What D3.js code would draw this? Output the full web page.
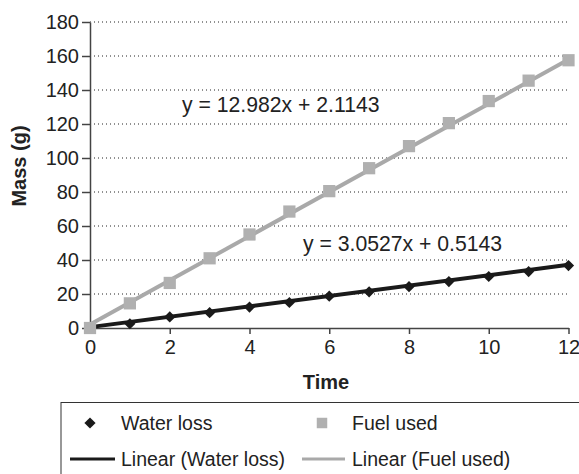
<!DOCTYPE html>
<html><head><meta charset="utf-8">
<script src="https://cdn.jsdelivr.net/npm/d3@7"></script>
<style>body{margin:0;background:#fff}svg{display:block;font-family:"Liberation Sans",Arial,sans-serif}</style>
</head><body>
<script>
const times = [0,1,2,3,4,5,6,7,8,9,10,11,12];
const waterLoss = [0,2.5,6.5,9,12.3,15,18.7,21.3,24.3,27.3,30.3,33.2,36.7];
const fuelUsed = [0,14.5,26.5,41,55,68.5,80.5,94,107,120.5,133.5,145.5,157.5];
const waterFit = {slope:3.0527, intercept:0.5143, label:"y = 3.0527x + 0.5143"};
const fuelFit = {slope:12.982, intercept:2.1143, label:"y = 12.982x + 2.1143"};
const yTicks = [0,20,40,60,80,100,120,140,160,180];
const xTicks = [0,2,4,6,8,10,12];

const W=579,H=474;
const svg=d3.select("body").append("svg").attr("width",W).attr("height",H);
const x=d3.scaleLinear().domain([0,12]).range([90,568.5]);
const y=d3.scaleLinear().domain([0,180]).range([328,22]);
const axisCol="#444";
const txt="#222";

// gridlines
svg.append("g").selectAll("line").data(yTicks.filter(d=>d>0)).join("line")
  .attr("x1",x(0)).attr("x2",x(12)).attr("y1",d=>y(d)).attr("y2",d=>y(d))
  .attr("stroke","#222").attr("stroke-width",1).attr("stroke-dasharray","1,3");

// y axis
const ya=svg.append("g").attr("transform",`translate(${x(0)},0)`)
  .call(d3.axisLeft(y).tickValues(yTicks).tickSize(8).tickSizeOuter(0).tickPadding(3));
ya.select(".domain").attr("stroke",axisCol).attr("stroke-width",1.5);
ya.selectAll(".tick line").attr("stroke",axisCol).attr("stroke-width",1.5);
ya.selectAll("text").attr("font-size",20).attr("fill",txt).attr("font-family","Liberation Sans, Arial, sans-serif");

// x axis
const xa=svg.append("g").attr("transform",`translate(0,${y(0)})`)
  .call(d3.axisBottom(x).tickValues(xTicks).tickSize(6).tickSizeOuter(0).tickPadding(6));
xa.select(".domain").attr("stroke",axisCol).attr("stroke-width",1.5);
xa.selectAll(".tick line").attr("stroke",axisCol).attr("stroke-width",1.5);
xa.selectAll("text").attr("font-size",20).attr("fill",txt).attr("font-family","Liberation Sans, Arial, sans-serif");

// axis titles
svg.append("text").attr("x",326).attr("y",389).attr("text-anchor","middle")
  .attr("font-size",20).attr("font-weight","bold").attr("fill",txt).text("Time");
svg.append("text").attr("transform","translate(26,166) rotate(-90)").attr("text-anchor","middle")
  .attr("font-size",20).attr("font-weight","bold").attr("fill",txt).text("Mass (g)");

const black="#1a1a1a", gray="#a9a9a9", grayM="#b0b0b0";
const fitLine=f=>[[0,f.intercept],[12,f.slope*12+f.intercept]];
const line=d3.line().x(d=>x(d[0])).y(d=>y(d[1]));

svg.append("path").attr("d",line(fitLine(fuelFit))).attr("stroke",gray).attr("stroke-width",4).attr("fill","none");
svg.append("path").attr("d",line(fitLine(waterFit))).attr("stroke",black).attr("stroke-width",4).attr("fill","none");

const diamond=d3.symbol().type(d3.symbolDiamond2).size(80);
svg.append("g").selectAll("path").data(times.map((t,i)=>[t,waterLoss[i]])).join("path")
  .attr("d",diamond).attr("transform",d=>`translate(${x(d[0])},${y(d[1])})`).attr("fill",black);
const sq=d3.symbol().type(d3.symbolSquare).size(150);
svg.append("g").selectAll("path").data(times.map((t,i)=>[t,fuelUsed[i]])).join("path")
  .attr("d",sq).attr("transform",d=>`translate(${x(d[0])},${y(d[1])})`).attr("fill",grayM);

// equations
svg.append("text").attr("x",182).attr("y",111.5).attr("font-size",21.2).attr("fill",txt).text(fuelFit.label);
svg.append("text").attr("x",303).attr("y",250.5).attr("font-size",21.2).attr("fill",txt).text(waterFit.label);

// legend
const lg=svg.append("g");
lg.append("rect").attr("x",61).attr("y",402.5).attr("width",530).attr("height",90)
  .attr("fill","none").attr("stroke","#333").attr("stroke-width",1);
lg.append("path").attr("d",d3.symbol().type(d3.symbolDiamond2).size(80)).attr("transform","translate(90,423)").attr("fill",black);
lg.append("text").attr("x",121).attr("y",430).attr("font-size",19.5).attr("fill",txt).text("Water loss");
lg.append("path").attr("d",d3.symbol().type(d3.symbolSquare).size(110)).attr("transform","translate(322,423)").attr("fill",grayM);
lg.append("text").attr("x",352).attr("y",430).attr("font-size",19.5).attr("fill",txt).text("Fuel used");
lg.append("line").attr("x1",70).attr("x2",115).attr("y1",459).attr("y2",459).attr("stroke",black).attr("stroke-width",3);
lg.append("text").attr("x",121).attr("y",466).attr("font-size",19.5).attr("fill",txt).text("Linear (Water loss)");
lg.append("line").attr("x1",302).attr("x2",345).attr("y1",459).attr("y2",459).attr("stroke",gray).attr("stroke-width",3);
lg.append("text").attr("x",352).attr("y",466).attr("font-size",19.5).attr("fill",txt).text("Linear (Fuel used)");
</script>
</body></html>
